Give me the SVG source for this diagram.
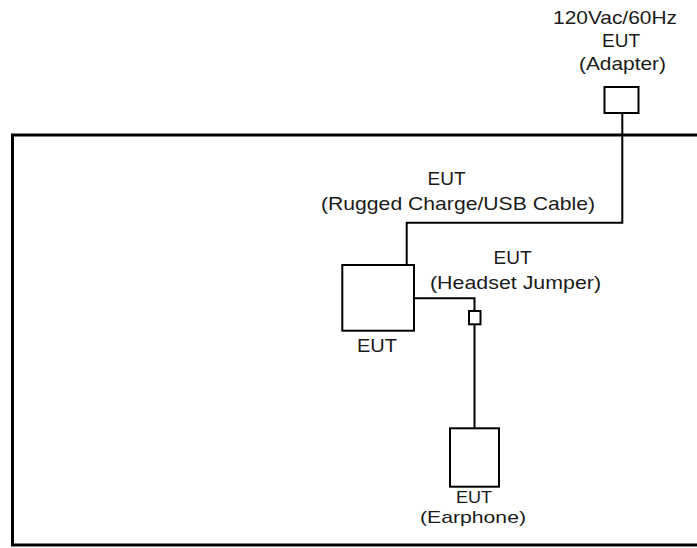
<svg xmlns="http://www.w3.org/2000/svg" width="697" height="548" viewBox="0 0 697 548">
<style>
.t{font-family:"Liberation Sans",Arial,sans-serif;font-size:19px;fill:#1a1a1a;text-anchor:middle}
.s{font-size:17px}
.box{fill:#fff;stroke:#000;stroke-width:2}
.ln{fill:none;stroke:#000;stroke-width:2}
.frame{fill:none;stroke:#000;stroke-width:3}
</style>
<rect width="697" height="548" fill="#fff"/>
<g id="frame"><path class="frame" d="M697,135 H12.5 V545 H697"/></g>
<g id="connectors">
<path class="ln" d="M622.3,113 V222.7 H406.7 V265"/>
<path class="ln" d="M414,298.3 H474.5 V311"/>
<path class="ln" d="M474.5,324.3 V428.3"/>
</g>
<g id="adapter">
<rect class="box" x="604.5" y="87" width="34" height="26"/>
<text class="t" x="615" y="24" textLength="124" lengthAdjust="spacingAndGlyphs">120Vac/60Hz</text>
<text class="t" x="621" y="47" textLength="38" lengthAdjust="spacingAndGlyphs">EUT</text>
<text class="t" x="622.5" y="70" textLength="87" lengthAdjust="spacingAndGlyphs">(Adapter)</text>
</g>
<g id="cable-label">
<text class="t" x="446.5" y="184.5" textLength="38" lengthAdjust="spacingAndGlyphs">EUT</text>
<text class="t" x="458" y="210" textLength="274" lengthAdjust="spacingAndGlyphs">(Rugged Charge/USB Cable)</text>
</g>
<g id="eut">
<rect class="box" x="342.3" y="265" width="71.7" height="65.7"/>
<text class="t" x="377" y="352" textLength="40" lengthAdjust="spacingAndGlyphs">EUT</text>
</g>
<g id="jumper">
<rect class="box" x="469" y="311" width="11.5" height="13.3"/>
<text class="t" x="512.5" y="264" textLength="38" lengthAdjust="spacingAndGlyphs">EUT</text>
<text class="t" x="515.5" y="289" textLength="171" lengthAdjust="spacingAndGlyphs">(Headset Jumper)</text>
</g>
<g id="earphone">
<rect class="box" x="450" y="428.3" width="49" height="58.4"/>
<text class="t s" x="474" y="503" textLength="36" lengthAdjust="spacingAndGlyphs">EUT</text>
<text class="t s" x="473" y="523" textLength="106" lengthAdjust="spacingAndGlyphs">(Earphone)</text>
</g>
</svg>
